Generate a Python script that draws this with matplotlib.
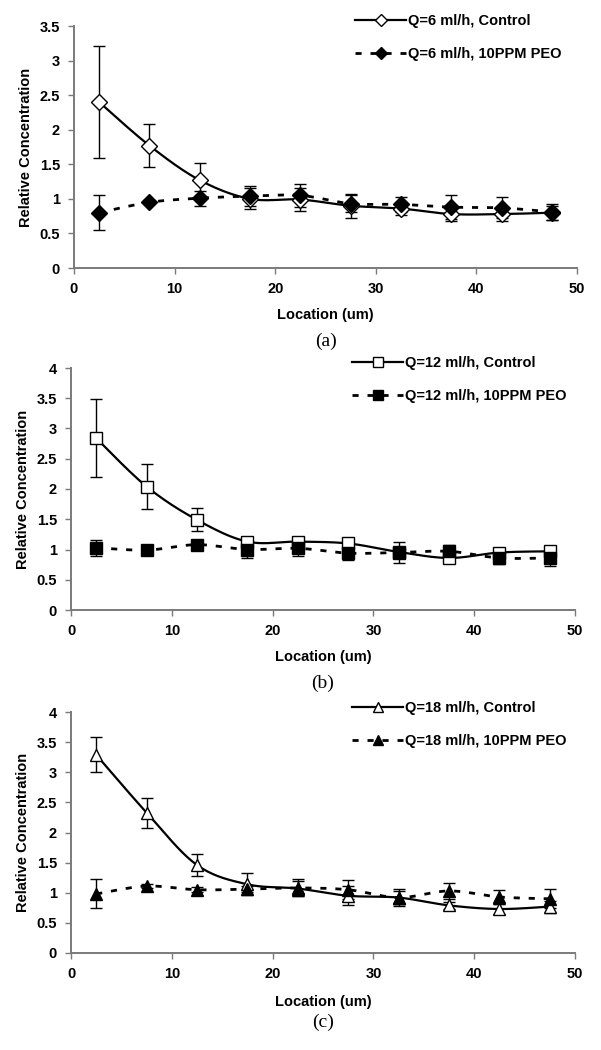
import numpy as np
import matplotlib
matplotlib.use("Agg")
import matplotlib.pyplot as plt
from matplotlib.lines import Line2D
from matplotlib.ticker import FuncFormatter, MultipleLocator

# ---------------- data ----------------
location = [2.5, 7.5, 12.5, 17.5, 22.5, 27.5, 32.5, 37.5, 42.5, 47.5]

a_control = [2.40, 1.77, 1.27, 1.00, 0.99, 0.90, 0.86, 0.78, 0.78, 0.80]
a_control_err = [0.81, 0.31, 0.25, 0.15, 0.17, 0.17, 0.09, 0.10, 0.10, 0.10]
a_peo = [0.80, 0.95, 1.01, 1.04, 1.05, 0.93, 0.92, 0.88, 0.87, 0.81]
a_peo_err = [0.25, 0.03, 0.11, 0.15, 0.17, 0.12, 0.11, 0.17, 0.15, 0.11]

b_control = [2.84, 2.04, 1.49, 1.13, 1.13, 1.10, 0.96, 0.86, 0.95, 0.97]
b_control_err = [0.64, 0.37, 0.19, 0.05, 0.04, 0.05, 0.05, 0.05, 0.04, 0.04]
b_peo = [1.03, 0.99, 1.08, 1.00, 1.02, 0.94, 0.95, 0.97, 0.86, 0.86]
b_peo_err = [0.13, 0.08, 0.07, 0.14, 0.12, 0.12, 0.17, 0.10, 0.10, 0.14]

c_control = [3.29, 2.33, 1.46, 1.14, 1.07, 0.95, 0.92, 0.79, 0.73, 0.77]
c_control_err = [0.29, 0.25, 0.18, 0.18, 0.13, 0.16, 0.11, 0.06, 0.08, 0.10]
c_peo = [0.98, 1.11, 1.05, 1.06, 1.08, 1.05, 0.92, 1.03, 0.93, 0.90]
c_peo_err = [0.24, 0.03, 0.04, 0.05, 0.14, 0.16, 0.14, 0.13, 0.11, 0.16]

labels_control = ["Q=6 ml/h, Control", "Q=12 ml/h, Control", "Q=18 ml/h, Control"]
labels_peo = ["Q=6 ml/h, 10PPM PEO", "Q=12 ml/h, 10PPM PEO", "Q=18 ml/h, 10PPM PEO"]
panel_tags = ["(a)", "(b)", "(c)"]
y_max = [3.5, 4, 4]

x_label = "Location (um)"
y_label = "Relative Concentration"


def smooth(x, y, n=20):
    """Catmull-Rom style smoothing of the drawn line (Excel 'smoothed line')."""
    x = np.asarray(x, float)
    y = np.asarray(y, float)
    P = np.column_stack([x, y])
    P = np.vstack([P[0], P, P[-1]])
    out = []
    t = np.linspace(0, 1, n, endpoint=False)
    for i in range(1, len(P) - 2):
        p0, p1, p2, p3 = P[i - 1], P[i], P[i + 1], P[i + 2]
        c1 = p1 + (p2 - p0) / 6.0
        c2 = p2 - (p3 - p1) / 6.0
        seg = ((1 - t)[:, None] ** 3 * p1 + 3 * ((1 - t) ** 2 * t)[:, None] * c1
               + 3 * ((1 - t) * t ** 2)[:, None] * c2 + (t ** 3)[:, None] * p2)
        out.append(seg)
    out.append(P[-2][None, :])
    out = np.vstack(out)
    return out[:, 0], out[:, 1]


W, H = 601, 1050
fig = plt.figure(figsize=(W / 100, H / 100), dpi=100)

sans = "Liberation Sans"
serif = "Liberation Serif"
axis_gray = "#7a7a7a"
fs = 10.5

# axes boxes in pixels: left, right, y0 (value 0), ytop
boxes = [(74, 577, 268, 26), (71, 575, 610, 368), (71, 575, 953, 712)]
legend_pos = [(355, 14), (352, 356), (352, 701)]
xlabel_y = [315, 657, 1002]
tag_y = [341, 683, 1022]

series = [
    (a_control, a_control_err, a_peo, a_peo_err, "D", 8.0),
    (b_control, b_control_err, b_peo, b_peo_err, "s", 8.5),
    (c_control, c_control_err, c_peo, c_peo_err, "^", 9.0),
]

for k, (l, r, yb, yt) in enumerate(boxes):
    ax = fig.add_axes([l / W, 1 - yb / H, (r - l) / W, (yb - yt) / H])
    ctrl, ctrl_e, peo, peo_e, mk, ms = series[k]

    # error bars
    ax.errorbar(location, ctrl, yerr=ctrl_e, fmt="none", ecolor="black",
                elinewidth=1.0, capsize=4, capthick=1.0, zorder=2)
    ax.errorbar(location, peo, yerr=peo_e, fmt="none", ecolor="black",
                elinewidth=1.0, capsize=4, capthick=1.0, zorder=2)

    sx, sy = smooth(location, ctrl)
    ax.plot(sx, sy, color="black", lw=1.6, zorder=3)
    px, py = smooth(location, peo)
    ax.plot(px, py, color="black", lw=2.0, linestyle=(0, (2.2, 3.2)), zorder=3)

    ax.plot(location, ctrl, linestyle="none", marker=mk, ms=ms,
            mfc="white", mec="black", mew=1.0, zorder=4)
    ax.plot(location, peo, linestyle="none", marker=mk, ms=ms,
            mfc="black", mec="black", mew=1.0, zorder=5)

    ax.set_xlim(0, 50)
    ax.set_ylim(0, y_max[k])
    ax.xaxis.set_major_locator(MultipleLocator(10))
    ax.yaxis.set_major_locator(MultipleLocator(0.5))
    ax.yaxis.set_major_formatter(FuncFormatter(lambda v, p: "%g" % v))

    for s in ["top", "right"]:
        ax.spines[s].set_visible(False)
    for s in ["left", "bottom"]:
        ax.spines[s].set_color(axis_gray)
        ax.spines[s].set_linewidth(1.4)
    ax.tick_params(direction="out", length=4, width=1.0, color=axis_gray,
                   labelsize=fs, pad=6)
    for lab in ax.get_xticklabels() + ax.get_yticklabels():
        lab.set_fontfamily(sans)
        lab.set_fontweight("bold")
    ax.set_ylabel(y_label, fontfamily=sans, fontweight="bold", fontsize=fs,
                  labelpad=5)
    ax.patch.set_alpha(0)

    fig.text((l + r) / 2 / W, 1 - xlabel_y[k] / H, x_label, ha="center",
             va="center", fontfamily=sans, fontweight="bold", fontsize=fs)
    fig.text(0.5 * (l + r) / W, 1 - tag_y[k] / H, panel_tags[k], ha="center",
             va="center", fontfamily=serif, fontsize=14)

    h1 = Line2D([], [], color="black", lw=1.6, marker=mk, ms=6.5,
                mfc="white", mec="black")
    h2 = Line2D([], [], color="black", lw=2.0, linestyle=(0, (2.2, 3.2)),
                marker=mk, ms=6.5, mfc="black", mec="black")
    lx, ly = legend_pos[k]
    leg = ax.legend([h1, h2], [labels_control[k], labels_peo[k]],
                    loc="upper left", bbox_to_anchor=(lx / W, 1 - ly / H),
                    bbox_transform=fig.transFigure, frameon=False,
                    borderpad=0, borderaxespad=0, handlelength=3.5,
                    handletextpad=0.15, labelspacing=1.3,
                    prop={"family": sans, "weight": "bold", "size": fs})

fig.savefig("out.png", dpi=100)
